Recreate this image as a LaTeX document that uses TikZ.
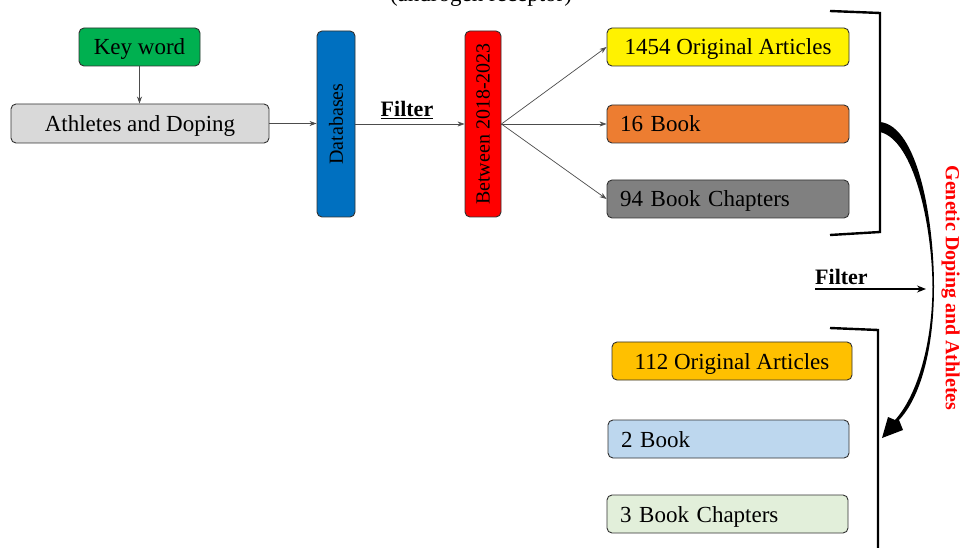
\documentclass[tikz,border=0pt]{standalone}
\usepackage{fontspec}
\setmainfont{Liberation Serif}
\usetikzlibrary{arrows.meta}
\definecolor{kwgreen}{RGB}{0,176,80}
\definecolor{lgray}{RGB}{217,217,217}
\definecolor{dbblue}{RGB}{0,112,192}
\definecolor{orng}{RGB}{237,125,49}
\definecolor{mgray}{RGB}{128,128,128}
\definecolor{gold}{RGB}{255,192,0}
\definecolor{lblue}{RGB}{189,215,238}
\definecolor{lgreen}{RGB}{226,239,218}
\definecolor{edge}{RGB}{50,50,50}
\tikzset{
  box/.style={draw=edge, line width=0.9pt, rounded corners=5pt, inner sep=0pt, text height=18pt, text depth=2pt, font=\fontsize{23}{27}\selectfont},
  vbox/.style={draw=edge, line width=0.9pt, rounded corners=5pt, inner sep=0pt},
  conn/.style={draw=black!70, line width=0.7pt, -{Stealth[length=7pt,width=5pt]}},
  brk/.style={draw=black, line width=2.4pt},
  lbl/.style={font=\bfseries\fontsize{22}{26}\selectfont}
}
\begin{document}
\begin{tikzpicture}[x=1pt,y=-1pt]
\useasboundingbox (0,0) rectangle (962,548);
\fill[white] (0,0) rectangle (962,548);
\node[font=\fontsize{23}{27}\selectfont, anchor=base] (title) at (481,2) {(androgen receptor)};
% left part
\node[box, fill=kwgreen, minimum width=121pt, minimum height=38pt] (kw) at (139.5,47) {Key word};
\node[box, fill=lgray, minimum width=258pt, minimum height=39pt] (ad) at (140,123.5) {Athletes and Doping};
\node[vbox, fill=dbblue, minimum width=38pt, minimum height=186pt] (db) at (336,124) {};
\node[font=\fontsize{20}{24}\selectfont, rotate=90] (dbt) at (336,124) {Databases};
\node[vbox, fill=red, minimum width=36pt, minimum height=186pt] (bw) at (483,124) {};
\node[font=\fontsize{20}{24}\selectfont, rotate=90] (bwt) at (483,124) {Between 2018-2023};
\draw[conn] (kw.south) -- (kw.south |- ad.north);
\draw[conn] (ad.east) -- (ad.east -| db.west);
\draw[conn] (db.east) -- node[lbl, above, yshift=2pt, xshift=-3pt] (f1) {\underline{Filter}} (db.east -| bw.west);
% first results
\node[box, fill=yellow, minimum width=242pt, minimum height=38pt] (oa) at (728,47) {1454 Original Articles};
\node[box, fill=orng, minimum width=242pt, minimum height=38pt, text width=216pt, align=left] (bk) at (728,124) {16 Book};
\node[box, fill=mgray, minimum width=242pt, minimum height=38pt, text width=216pt, align=left] (bc) at (728,199) {94 Book Chapters};
\draw[conn] (bw.east) -- (oa.west);
\draw[conn] (bw.east) -- (bk.west);
\draw[conn] (bw.east) -- (bc.west);
% bracket 1
\coordinate (b1a) at (830,11);
\coordinate (b1b) at (880,13);
\coordinate (b1c) at (880,232);
\coordinate (b1d) at (830,235);
\draw[brk] (b1a) -- (b1b) -- (b1c) -- (b1d);
% curved arrow
\fill[black] (880,122) .. controls (918,126) and (934,220) .. (934,287)
  .. controls (934,350) and (920,398) .. (899,420)
  -- (903,430) -- (882,438) -- (888,417) -- (895,420)
  .. controls (915,398) and (932,350) .. (932.5,287)
  .. controls (932,225) and (914,140) .. (880,132) -- cycle;
\node[font=\bfseries\fontsize{20}{24}\selectfont, text=red, rotate=-90] (gda) at (950.5,288) {Genetic Doping and Athletes};
% second filter
\coordinate (f2a) at (815,289);
\coordinate (f2b) at (926,289);
\draw[line width=1.3pt, -{Stealth[length=9pt,width=7pt]}] (f2a) -- (f2b);
\node[lbl, anchor=base west, inner sep=0pt] (f2) at (815,285) {Filter};
% bracket 2
\coordinate (b2a) at (830,328);
\coordinate (b2b) at (878,330);
\coordinate (b2c) at (878,560);
\draw[brk] (b2a) -- (b2b) -- (b2c);
% second results
\node[box, fill=gold, minimum width=240pt, minimum height=38pt] (oa2) at (732,361) {112 Original Articles};
\node[box, fill=lblue, minimum width=241pt, minimum height=38pt, text width=215pt, align=left] (bk2) at (728.5,439) {2 Book};
\node[box, fill=lgreen, minimum width=241pt, minimum height=38pt, text width=215pt, align=left] (bc2) at (727.5,514) {3 Book Chapters};
\end{tikzpicture}
\end{document}
